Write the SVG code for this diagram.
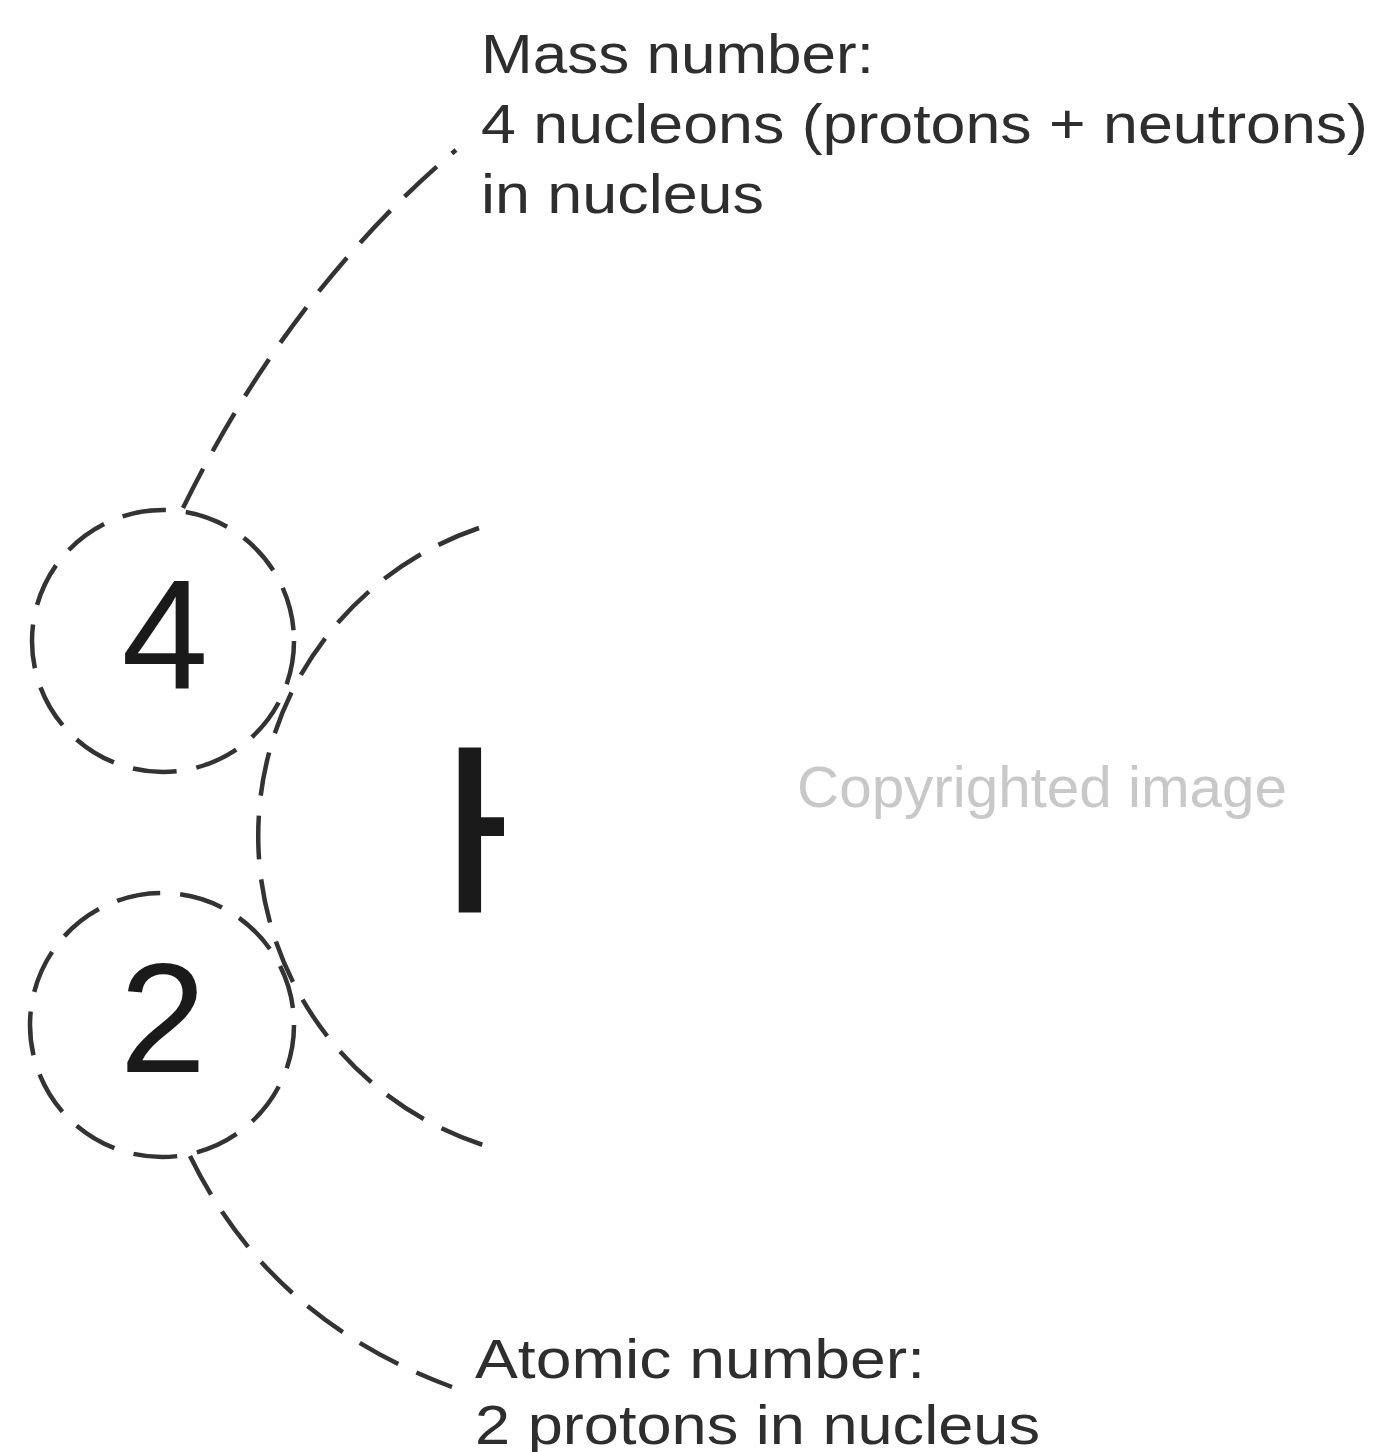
<svg xmlns="http://www.w3.org/2000/svg" width="1374" height="1452" viewBox="0 0 1374 1452">
  <style>
    .dash { fill: none; stroke: #333333; stroke-width: 4.5; stroke-dasharray: 44 20; stroke-linecap: butt; }
    .lbl { font-family: "Liberation Sans", Arial, sans-serif; font-size: 56px; fill: #2e2e2e; }
    .num { font-family: "Liberation Sans", Arial, sans-serif; font-size: 156px; fill: #1a1a1a; text-anchor: middle; }
    .sym { font-family: "Liberation Sans", Arial, sans-serif; font-size: 240px; fill: #1a1a1a; }
    .wm { font-family: "Liberation Sans", Arial, sans-serif; font-size: 57px; fill: #c8c8c8; }
  </style>
  <defs>
    <clipPath id="clipH">
      <rect x="400" y="700" width="104" height="260"/>
    </clipPath>
  </defs>
  <rect x="0" y="0" width="1374" height="1452" fill="#ffffff"/>

  <g id="connectors">
    <path class="dash" d="M183,508 Q290,290 456,150"/>
    <path class="dash" d="M190,1156 Q270,1320 452,1387"/>
    <path class="dash" d="M479,528 A325,325 0 0 0 500,1150"/>
  </g>

  <g id="mass-number">
    <circle class="dash" cx="163" cy="641" r="131"/>
    <text class="num" x="165" y="688">4</text>
  </g>

  <g id="atomic-number">
    <circle class="dash" cx="162" cy="1025" r="132"/>
    <text class="num" x="163" y="1072">2</text>
  </g>

  <g id="symbol">
    <text class="sym" x="439" y="912" clip-path="url(#clipH)">H</text>
  </g>

  <g id="mass-label">
    <text class="lbl" x="481" y="73" textLength="393" lengthAdjust="spacingAndGlyphs">Mass number:</text>
    <text class="lbl" x="481" y="143" textLength="887" lengthAdjust="spacingAndGlyphs">4 nucleons (protons + neutrons)</text>
    <text class="lbl" x="481" y="213" textLength="283" lengthAdjust="spacingAndGlyphs">in nucleus</text>
  </g>

  <g id="atomic-label">
    <text class="lbl" x="475" y="1378" textLength="450" lengthAdjust="spacingAndGlyphs">Atomic number:</text>
    <text class="lbl" x="475" y="1444" textLength="565" lengthAdjust="spacingAndGlyphs">2 protons in nucleus</text>
  </g>

  <g id="watermark">
    <text class="wm" x="797" y="807" textLength="490" lengthAdjust="spacingAndGlyphs">Copyrighted image</text>
  </g>
</svg>
